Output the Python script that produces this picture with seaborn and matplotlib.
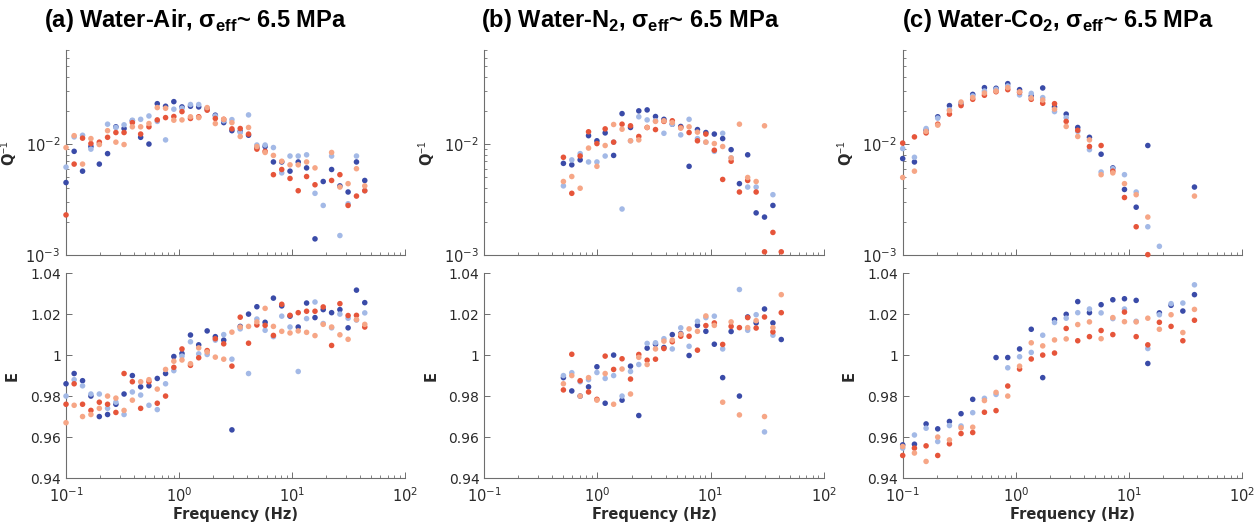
import numpy as np
import pandas as pd
import matplotlib.pyplot as plt
import seaborn as sns
from matplotlib.ticker import FixedLocator, FuncFormatter, NullFormatter

nan = np.nan

# ---- data ---------------------------------------------------------------
series = ['S1', 'S2', 'S3', 'S4']
palette = {'S1': '#3a4ba8', 'S2': '#a3b9e6', 'S3': '#e6553a', 'S4': '#f6a686'}

# (a) Water-Air
freq_a = [0.1, 0.118, 0.140, 0.166, 0.197, 0.233, 0.276, 0.326, 0.386, 0.457,
          0.541, 0.641, 0.759, 0.898, 1.06, 1.26, 1.49, 1.77, 2.09, 2.48,
          2.93, 3.47, 4.11, 4.87, 5.76, 6.82, 8.08, 9.56, 11.3, 13.4,
          15.9, 18.8, 22.3, 26.4, 31.2, 37.0, 43.8]
# Q^-1 in units of 1e-2
qa_s1 = [0.45, 0.86, 0.57, 0.95, 0.66, 0.82, 1.43, 1.38, 1.62, 1.15, 1.00, 2.31, 2.19, 2.41, 2.16, 2.19,
         2.16, 2.09, 1.82, 1.56, 1.32, 1.30, 1.20, 0.93, 0.95, 0.69, 0.69, 0.57, 0.69, 0.61, 0.14, 0.46,
         0.59, 0.42, 0.37, 0.69, 0.47]
qa_s2 = [0.62, 1.16, 1.20, 0.90, 1.00, 1.51, 1.41, 1.49, 1.64, 1.67, 1.79, 1.60, 1.09, 2.06, 2.10, 2.27,
         2.27, 2.03, 1.79, 1.62, 1.66, 1.27, 1.83, 0.98, 0.98, 0.93, 0.55, 0.78, 0.78, 0.80, 0.36, 0.28,
         0.78, 0.15, 0.29, 0.78, 0.38]
qa_s3 = [0.23, 0.66, 1.13, 1.01, 1.04, 1.15, 1.27, 1.27, 1.56, 1.23, 1.43, 1.65, 1.73, 1.77, 1.96, 1.70,
         1.76, 2.02, 1.70, 1.67, 1.37, 1.38, 1.23, 0.90, 0.86, 0.53, 0.59, 0.49, 0.38, 0.51, 0.43, nan,
         0.47, 0.53, 0.28, 0.34, 0.38]
qa_s4 = [0.93, 1.19, 0.66, 1.12, 0.99, 1.32, 1.04, 0.99, 1.43, 1.43, 1.53, 2.13, 2.10, 1.64, 1.65, 1.76,
         1.73, 2.13, 1.53, 1.67, 1.56, 1.17, 1.41, 0.95, 0.84, 0.79, 0.70, 0.65, 0.65, 0.69, 0.61, nan,
         0.84, 0.41, 0.44, 0.60, 0.42]
ea_s1 = [0.986, 0.991, 0.9875, 0.980, 0.970, 0.971, 0.976, 0.981, 0.990, 0.9845, 0.985, 0.9886, 0.991,
         0.9993, 1.0008, 1.0098, 1.005, 1.0118, 1.009, 1.0073, 0.9635, 1.014, 1.020, 1.0236, 1.016, 1.0278,
         1.024, 1.019, 1.0137, 1.0254, 1.0183, 1.0222, 1.0207, 1.0222, 1.0133, 1.0317, 1.0256]
ea_s2 = [0.980, 0.988, 0.985, 0.981, 0.981, 0.974, 0.977, 0.971, 0.982, 0.9805, 0.9755, 0.9734, 0.986,
         0.9924, 0.9995, 1.0065, 1.0006, 1.0003, 1.0073, 1.010, 0.998, 1.0128, 0.991, 1.0176, 1.0121, 1.009,
         1.019, 1.0137, 0.992, 1.0178, 1.0259, 1.0154, 1.0133, 1.020, 1.018, 1.0171, 1.0206]
ea_s3 = [0.976, 0.986, 0.976, 0.973, 0.977, 0.976, 0.972, 0.991, 0.987, 0.974, 0.987, 0.9765, 0.980,
         0.994, 1.003, 0.995, 0.9987, 1.0022, 1.008, 1.0055, 0.9946, 1.0185, 1.0058, 1.0147, 1.0145, 1.0096,
         1.0248, 1.0194, 1.0207, 1.0214, 1.0214, 1.0235, 1.0047, 1.0251, 1.0193, 1.0194, 1.0137]
ea_s4 = [0.967, 0.9755, 0.970, 0.971, 0.974, 0.980, 0.979, 0.973, 0.978, 0.987, 0.988, 0.9834, 0.993,
         0.997, 0.9976, 0.9958, 1.0035, 1.0015, 0.999, 0.998, 1.0112, 1.0137, 1.014, 1.0162, 1.0228, 1.014,
         1.0116, 1.0108, 1.0118, 1.0111, 1.0095, 1.015, 1.0137, 1.0099, 1.0077, 1.0173, 1.015]

# (b) Water-N2
freq_b = [0.5, 0.593, 0.703, 0.834, 0.989, 1.17, 1.39, 1.65, 1.96, 2.32, 2.75, 3.26, 3.87, 4.59,
          5.45, 6.46, 7.66, 9.09, 10.8, 12.8, 15.2, 18.0, 21.3, 25.3, 30.0, 35.6, 42.2]
qb_s1 = [0.67, 0.65, 0.72, 1.19, 1.07, 1.26, 0.79, 1.88, 1.41, 1.99, 2.03, 1.77, 1.67, 1.51, 1.44, 0.63,
         1.35, 1.27, 1.23, 1.12, 0.89, 0.44, 0.80, 0.24, 0.22, 0.28, nan]
qb_s2 = [0.42, 0.72, 0.82, 0.69, 0.69, 0.78, 1.04, 0.26, 1.07, 1.76, 1.65, 1.62, 1.25, 1.51, 1.21, 1.67,
         1.12, 1.04, 0.86, 1.25, 0.75, nan, 0.41, 0.41, nan, 0.35, nan]
qb_s3 = [0.76, 0.36, 0.78, 1.29, 1.01, 1.37, 1.04, 1.51, 1.46, 1.17, 1.41, 1.35, 1.60, 1.62, 1.41, 1.27,
         1.07, 1.23, 0.88, 0.48, 0.70, 0.37, 0.47, 0.37, 0.107, 0.16, 0.107]
qb_s4 = [0.46, 0.51, 0.40, 0.92, 0.63, 0.97, 1.50, 1.36, 1.07, 1.09, 1.41, 1.60, 1.62, 1.56, 1.39, 1.43,
         1.28, 1.04, 1.01, 0.95, 0.75, 1.51, 0.50, 0.46, 1.46, nan, nan]
eb_s1 = [0.989, 0.9825, 0.980, 0.9845, 0.9943, 0.9765, 1.000, 0.978, 0.9946, 0.9705, 1.0034, 1.0053,
         1.0037, 1.010, 1.0105, 0.9998, 1.0145, 1.0116, 1.0053, 0.989, 1.0115, 0.980, 1.0186, 1.0157,
         1.0225, 1.0157, 1.0076]
eb_s2 = [0.990, 0.9914, 0.987, 0.988, 0.9915, 0.9886, 0.990, 0.980, 0.992, 0.9954, 1.0057, 1.006, 1.008,
         1.003, 1.0133, 1.0043, 1.0165, 1.0183, 1.019, 1.003, nan, 1.032, 1.0121, 1.0197, 0.9625, 1.0097, nan]
eb_s3 = [0.983, 1.0004, 0.9875, 0.982, 0.9784, 0.9995, 0.993, 0.9982, 0.9883, 1.0003, 0.9975, 0.998,
         1.0032, 1.0065, 1.0092, 1.0092, 1.0024, 1.0144, 1.0157, 1.0052, 1.014, 1.0134, 1.0183, 1.0132,
         1.0186, 1.0113, 1.0207]
eb_s4 = [0.986, 0.990, 0.980, 0.989, 0.978, 0.991, 0.976, 0.9932, 0.981, 0.9989, 0.9954, 1.003, 1.0068,
         1.0073, 1.0102, 1.0128, 1.0116, 1.0191, 1.0145, 0.977, 1.0162, 0.9708, 1.0134, 1.0168, 0.970,
         1.0134, 1.0295]

# (c) Water-CO2
freq_c = [0.1, 0.127, 0.161, 0.204, 0.259, 0.328, 0.416, 0.528, 0.669, 0.849, 1.08, 1.37, 1.73,
          2.20, 2.79, 3.53, 4.48, 5.68, 7.21, 9.14, 11.6, 14.7, 18.6, 23.6, 30.0, 38.0]
qc_s1 = [0.74, 0.69, 1.33, 1.76, 2.22, 2.30, 2.80, 3.22, 3.18, 3.50, 3.09, 2.71, 3.20, 2.16, 1.86, 1.41,
         1.15, 0.81, 0.61, 0.39, 0.27, 0.97, nan, nan, nan, 0.41]
qc_s2 = [0.91, 0.76, 1.38, 1.71, 2.04, 2.33, 2.71, 3.00, 3.11, 3.33, 2.77, 2.86, 2.62, 1.96, 1.73, 1.30,
         0.89, 0.56, 0.60, 0.53, 0.37, 0.18, 0.12, nan, nan, nan]
qc_s3 = [1.02, 1.16, 1.26, 1.51, 1.86, 2.22, 2.53, 2.75, 2.96, 3.09, 2.92, 2.53, 2.33, 2.31, 1.60, 1.33,
         0.95, 0.97, 0.57, 0.33, 0.18, 0.101, nan, nan, nan, nan]
qc_s4 = [0.50, 0.57, 1.30, 1.48, 2.00, 2.39, 2.62, 2.88, 3.00, 3.22, 2.95, 2.60, 2.49, 2.06, 1.44, 1.17,
         1.09, 0.53, 0.55, 0.44, 0.35, 0.22, nan, nan, nan, 0.34]
ec_s1 = [0.9562, 0.9565, 0.9664, 0.964, 0.9676, 0.9714, 0.9784, nan, 0.9988, 0.9988, 1.003, 1.0126, 0.989,
         1.0173, 1.0199, 1.0261, 1.0207, 1.0246, 1.027, 1.0275, 1.0267, 0.9959, 1.0206, 1.0243, 1.0215, 1.0295]
ec_s2 = [0.9546, 0.961, 0.9643, 0.9578, 0.9656, 0.9654, 0.9719, 0.9789, 0.9808, 0.9938, 0.9992, 1.0013,
         1.0097, 1.0159, 1.018, 1.0207, 1.0225, 1.0206, 1.0178, 1.0225, 1.0165, 1.0032, 1.0197, 1.0251,
         1.0254, 1.0343]
ec_s3 = [0.951, 0.9546, 0.9557, 0.951, 0.9567, 0.9617, 0.9622, 0.9721, 0.9729, 0.9849, 0.9932, 0.9981,
         1.0, 1.001, 1.013, 1.007, 1.009, 1.012, 1.010, 1.021, 1.009, 1.005, 1.016, 1.014, 1.007, 1.017]
ec_s4 = [0.9554, 0.9522, 0.9481, 0.960, 0.9586, 0.9645, 0.9648, 0.9778, 0.9818, 0.980, 0.9946, 1.006,
         1.0045, 1.0074, 1.0079, 1.0149, 1.0162, 1.008, 1.0183, 1.0163, 1.0162, 1.018, 1.0126, 1.0197,
         1.011, 1.0223]

titles = [r'(a) Water-Air, σ$_{\mathbf{eff}}$~ 6.5 MPa',
          r'(b) Water-N$_{\mathbf{2}}$, σ$_{\mathbf{eff}}$~ 6.5 MPa',
          r'(c) Water-Co$_{\mathbf{2}}$, σ$_{\mathbf{eff}}$~ 6.5 MPa']
title_x = [0.035, 0.382, 0.716]


def long_form(freq, cols, scale=1.0):
    frames = []
    for name, vals in zip(series, cols):
        frames.append(pd.DataFrame({'f': freq, 'v': np.array(vals) * scale, 'run': name}))
    return pd.concat(frames).dropna()


panels = [
    (freq_a, [qa_s1, qa_s2, qa_s3, qa_s4], [ea_s1, ea_s2, ea_s3, ea_s4]),
    (freq_b, [qb_s1, qb_s2, qb_s3, qb_s4], [eb_s1, eb_s2, eb_s3, eb_s4]),
    (freq_c, [qc_s1, qc_s2, qc_s3, qc_s4], [ec_s1, ec_s2, ec_s3, ec_s4]),
]

# ---- style ---------------------------------------------------------------
sns.set_theme(style='ticks')
plt.rcParams['font.family'] = ['DejaVu Sans']
plt.rcParams['mathtext.fontset'] = 'custom'
plt.rcParams['mathtext.rm'] = 'Liberation Sans'
plt.rcParams['mathtext.bf'] = 'Liberation Sans:bold'

axis_col = '#6e6e6e'
text_col = '#2a2a2a'

fig, axes = plt.subplots(2, 3, figsize=(12.6, 5.23), dpi=100)
fig.subplots_adjust(left=0.0524, right=0.9857, top=0.904, bottom=0.086,
                    wspace=0.233, hspace=0.088)

e_ticks = [0.94, 0.96, 0.98, 1.0, 1.02, 1.04]

for j, (freq, qcols, ecols) in enumerate(panels):
    ax_q = axes[0, j]
    ax_e = axes[1, j]

    sns.scatterplot(data=long_form(freq, qcols, 1e-2), x='f', y='v', hue='run',
                    palette=palette, hue_order=series, s=16, linewidth=0,
                    legend=False, ax=ax_q, clip_on=False, zorder=3)
    sns.scatterplot(data=long_form(freq, ecols), x='f', y='v', hue='run',
                    palette=palette, hue_order=series, s=16, linewidth=0,
                    legend=False, ax=ax_e, clip_on=False, zorder=3)

    for ax in (ax_q, ax_e):
        ax.set_xscale('log')
        ax.set_xlim(0.1, 100)
        sns.despine(ax=ax)
        for sp in ('left', 'bottom'):
            ax.spines[sp].set_color(axis_col)
            ax.spines[sp].set_linewidth(0.8)
        ax.tick_params(which='both', direction='in', colors=axis_col,
                       labelcolor=text_col, labelsize=10.5)
        ax.tick_params(which='major', length=4, width=0.7)
        ax.tick_params(which='minor', length=2.2, width=0.6)
        ax.set_xlabel('')
        ax.yaxis.set_label_coords(-0.136, 0.5)

    ax_q.set_yscale('log')
    ax_q.set_ylim(1e-3, 0.07)
    ax_q.xaxis.set_major_formatter(NullFormatter())
    ax_q.tick_params(axis='y', pad=4)
    ax_q.set_ylabel(r'Q$^{-1}$', fontsize=10.5, color=text_col, fontweight='bold')

    ax_e.set_ylim(0.94, 1.04)
    ax_e.yaxis.set_major_locator(FixedLocator(e_ticks))
    ax_e.yaxis.set_major_formatter(FuncFormatter(lambda v, p: f'{v:g}'))
    ax_e.tick_params(axis='x', pad=6)
    ax_e.tick_params(axis='y', labelsize=10)
    ax_e.set_ylabel('E', fontsize=10.5, color=text_col, fontweight='bold')
    ax_e.set_xlabel('Frequency (Hz)', fontsize=10.5, color=text_col, fontweight='bold')
    ax_e.xaxis.set_label_coords(0.5, -0.14)

    fig.text(title_x[j], 0.960, titles[j], fontsize=17, fontweight='bold',
             family='Liberation Sans', ha='left', va='center', color='black')

fig.savefig('out.png', dpi=100)
